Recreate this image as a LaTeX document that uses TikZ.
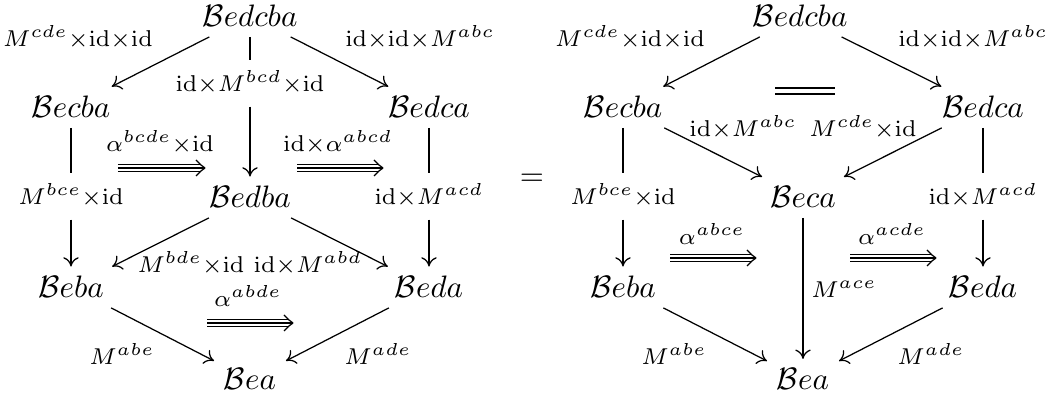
\RequirePackage{fix-cm}
\documentclass[tikz,border=0pt]{standalone}
\usetikzlibrary{calc,arrows.meta}
\DeclareMathSizes{7.4}{7.4}{5.6}{4.5}
\newcommand\xx{{\times}}
\newcommand\idm{\mathrm{id}}
\newcommand\mytriple[2]{%
  \draw[ln] ($(#1)+(0,-3.5)$) -- ($(#2)+(-5.5,-3.5)$);
  \draw[ln] (#1) -- ($(#2)+(-1,0)$);
  \draw[ln] ($(#1)+(0,3.5)$) -- ($(#2)+(-5.5,3.5)$);
  \draw[ln] (#2) .. controls ($(#2)+(-3,-2)$) .. ($(#2)+(-9,-8)$);
  \draw[ln] (#2) .. controls ($(#2)+(-3,2)$) .. ($(#2)+(-9,8)$);
}
\begin{document}
\begin{tikzpicture}[x=0.3226pt,y=-0.3226pt,
  obj/.style={anchor=base,inner sep=3pt},
  lab/.style={anchor=base,inner sep=0pt,font=\fontsize{7.4}{9}\selectfont},
  brk/.style={anchor=base,text height=8pt,text depth=2.5pt,inner xsep=1pt,inner ysep=2pt,font=\fontsize{7.4}{9}\selectfont},
  ln/.style={line width=0.4pt},
  arr/.style={ln,-{To[length=3pt,width=5pt]}}]
\useasboundingbox (0,0) rectangle (1057,396);
% ---------------- left diagram ----------------
\node[obj] (L0) at (250,27) {$\mathcal{B}edcba$};
\node[obj] (L1) at (71,118) {$\mathcal{B}ecba$};
\node[obj] (L2) at (429,118) {$\mathcal{B}edca$};
\node[obj] (L3) at (250,208) {$\mathcal{B}edba$};
\node[obj] (L4) at (71,298) {$\mathcal{B}eba$};
\node[obj] (L5) at (429,298) {$\mathcal{B}eda$};
\node[obj] (L6) at (250,390) {$\mathcal{B}ea$};
\node[brk] (Lv0) at (250,92) {$\idm\xx M^{bcd}\xx\idm$};
\node[brk] (Lv1) at (71,205) {$M^{bce}\xx\idm$};
\node[brk] (Lv2) at (429,205) {$\idm\xx M^{acd}$};
\draw[arr] (L0) -- (L1);
\draw[arr] (L0) -- (L2);
\draw[ln] (L0) -- (Lv0);
\draw[arr] (Lv0) -- (L3);
\draw[ln] (L1) -- (Lv1);
\draw[arr] (Lv1) -- (L4);
\draw[ln] (L2) -- (Lv2);
\draw[arr] (Lv2) -- (L5);
\draw[arr] (L3) -- (L4);
\draw[arr] (L3) -- (L5);
\draw[arr] (L4) -- (L6);
\draw[arr] (L5) -- (L6);
\node[lab] (la1) at (78,47) {$M^{cde}\xx\idm\xx\idm$};
\node[lab] (la2) at (420,47) {$\idm\xx\idm\xx M^{abc}$};
\node[lab] (la3) at (160,152) {$\alpha^{bcde}\xx\idm$};
\node[lab] (la4) at (338,152) {$\idm\xx\alpha^{abcd}$};
\node[lab] (la5) at (191,273) {$M^{bde}\xx\idm$};
\node[lab] (la6) at (308,273) {$\idm\xx M^{abd}$};
\node[lab] (la7) at (248,307) {$\alpha^{abde}$};
\node[lab] (la8) at (122,365) {$M^{abe}$};
\node[lab] (la9) at (378,365) {$M^{ade}$};
\coordinate (t1s) at (118,168); \coordinate (t1e) at (205,168);
\coordinate (t2s) at (297,168); \coordinate (t2e) at (383,168);
\coordinate (t3s) at (207,323); \coordinate (t3e) at (293,323);
\mytriple{t1s}{t1e}
\mytriple{t2s}{t2e}
\mytriple{t3s}{t3e}
% ---------------- equals ----------------
\node[anchor=base,inner sep=0pt] (eq) at (532,186) {$=$};
% ---------------- right diagram ----------------
\node[obj] (R0) at (800,27) {$\mathcal{B}edcba$};
\node[obj] (R1) at (623,118) {$\mathcal{B}ecba$};
\node[obj] (R2) at (983,118) {$\mathcal{B}edca$};
\node[obj] (R3) at (803,208) {$\mathcal{B}eca$};
\node[obj] (R4) at (623,298) {$\mathcal{B}eba$};
\node[obj] (R5) at (983,298) {$\mathcal{B}eda$};
\node[obj] (R6) at (803,390) {$\mathcal{B}ea$};
\node[brk] (Rv1) at (623,205) {$M^{bce}\xx\idm$};
\node[brk] (Rv2) at (983,205) {$\idm\xx M^{acd}$};
\draw[arr] (R0) -- (R1);
\draw[arr] (R0) -- (R2);
\draw[arr] (R1) -- (R3);
\draw[arr] (R2) -- (R3);
\draw[ln] (R1) -- (Rv1);
\draw[arr] (Rv1) -- (R4);
\draw[ln] (R2) -- (Rv2);
\draw[arr] (Rv2) -- (R5);
\draw[arr] (R3) -- (R6);
\draw[arr] (R4) -- (R6);
\draw[arr] (R5) -- (R6);
\node[lab] (ra1) at (630,47) {$M^{cde}\xx\idm\xx\idm$};
\node[lab] (ra2) at (973,47) {$\idm\xx\idm\xx M^{abc}$};
\node[lab] (ra3) at (743,137) {$\idm\xx M^{abc}$};
\node[lab] (ra4) at (863,137) {$M^{cde}\xx\idm$};
\node[lab] (ra5) at (712,245) {$\alpha^{abce}$};
\node[lab] (ra6) at (892,245) {$\alpha^{acde}$};
\node[lab] (ra7) at (844,298) {$M^{ace}$};
\node[lab] (ra8) at (674,365) {$M^{abe}$};
\node[lab] (ra9) at (931,365) {$M^{ade}$};
\coordinate (ds) at (775,91); \coordinate (de) at (835,91);
\draw[ln,double,double distance=1.5pt] (ds) -- (de);
\coordinate (t4s) at (670,258); \coordinate (t4e) at (756,258);
\coordinate (t5s) at (850,258); \coordinate (t5e) at (936,258);
\mytriple{t4s}{t4e}
\mytriple{t5s}{t5e}
\end{tikzpicture}
\end{document}
